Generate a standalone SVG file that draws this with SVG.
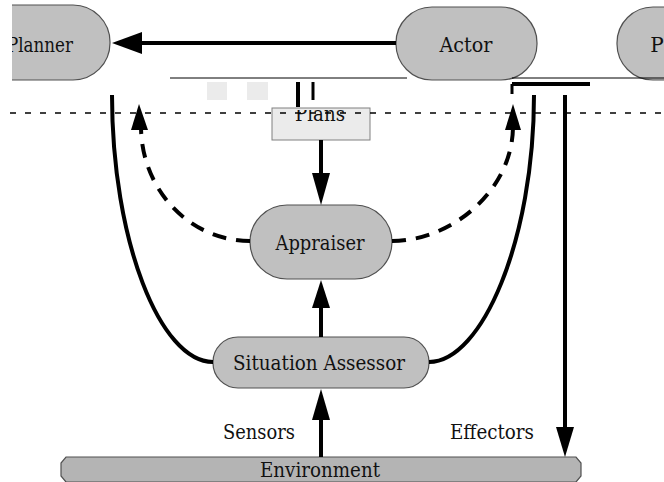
<svg xmlns="http://www.w3.org/2000/svg" width="664" height="482" viewBox="0 0 664 482">
<style>
.node{fill:#c0c0c0;stroke:#505050;stroke-width:1.2}
.lbl{font-family:"DejaVu Serif",serif;font-size:20px;fill:#111;text-anchor:middle}
.edge{fill:none;stroke:#000;stroke-width:4}
.dash{fill:none;stroke:#000;stroke-width:4;stroke-dasharray:14 10}
.head{fill:#000}
.junk{stroke:#000;fill:none}
</style>
<defs>
<clipPath id="clipL"><rect x="12" y="0" width="200" height="90"/></clipPath>
<clipPath id="clipPlans"><rect x="260" y="110" width="120" height="40"/></clipPath>
</defs>

<g id="planner" clip-path="url(#clipL)">
<rect class="node" x="-31" y="5" width="141" height="75" rx="37" ry="37"/>
<text class="lbl" x="40" y="52" textLength="66" lengthAdjust="spacingAndGlyphs">Planner</text>
</g>

<g id="actor">
<rect class="node" x="396" y="7" width="141" height="73" rx="36" ry="36"/>
<text class="lbl" x="466" y="52" textLength="53" lengthAdjust="spacingAndGlyphs">Actor</text>
</g>

<g id="p-node">
<rect class="node" x="617" y="7" width="141" height="73" rx="36" ry="36"/>
<text class="lbl" x="657" y="52">P</text>
</g>

<g id="plans">
<rect x="272" y="108" width="98" height="32" fill="#ebebeb" stroke="#808080" stroke-width="1"/>
<text class="lbl" x="320" y="121" clip-path="url(#clipPlans)" textLength="50" lengthAdjust="spacingAndGlyphs">Plans</text>
</g>

<g id="appraiser">
<rect class="node" x="250" y="205" width="142" height="74" rx="37" ry="37"/>
<text class="lbl" x="320" y="250" textLength="89" lengthAdjust="spacingAndGlyphs">Appraiser</text>
</g>

<g id="situation-assessor">
<rect class="node" x="213" y="337" width="216" height="51" rx="25" ry="25"/>
<text class="lbl" x="319" y="370" textLength="172" lengthAdjust="spacingAndGlyphs">Situation Assessor</text>
</g>

<g id="environment">
<path class="node" d="M66,457 H576 L581,463 V476 L576,482 H66 L61,476 V463 Z" style="fill:#b4b4b4"/>
<text class="lbl" x="320" y="477" textLength="120" lengthAdjust="spacingAndGlyphs">Environment</text>
</g>

<g id="connectors">
<line class="edge" x1="396" y1="43" x2="138" y2="43"/>
<polygon class="head" points="112,43 142,32 142,54"/>
<line class="edge" x1="321" y1="140" x2="321" y2="178"/>
<polygon class="head" points="321,205 312,173 330,173"/>
<line class="edge" x1="321" y1="337" x2="321" y2="302"/>
<polygon class="head" points="321,280 312,308 330,308"/>
<line class="edge" x1="321" y1="457" x2="321" y2="414"/>
<polygon class="head" points="321,389 312,420 330,420"/>
<line class="edge" x1="565" y1="95" x2="565" y2="432"/>
<polygon class="head" points="565,457 556,427 574,427"/>
<path class="edge" d="M213,362 C160,362 112,240 112,95"/>
<path class="edge" d="M429,362 C482,362 534,240 534,95"/>
<path class="dash" d="M250,241 C190,241 141,190 141,126"/>
<polygon class="head" points="139,104 131,130 148,130"/>
<path class="dash" d="M392,241 C452,241 513,190 513,126"/>
<polygon class="head" points="513,104 505,130 521,130"/>
<line class="junk" stroke-width="1" x1="170" y1="78" x2="407" y2="78"/>
<line class="junk" stroke-width="1" x1="512" y1="78" x2="664" y2="78"/>
<line class="junk" stroke-width="4" x1="512" y1="84" x2="590" y2="84"/>
<line class="junk" stroke-width="3" x1="512" y1="84" x2="512" y2="94"/>
<line class="junk" stroke-width="4" x1="298" y1="82" x2="298" y2="107"/>
<line class="junk" stroke-width="3" x1="313" y1="82" x2="313" y2="100"/>
<rect x="207" y="82" width="20" height="18" fill="#ebebeb"/>
<rect x="247" y="82" width="21" height="18" fill="#ebebeb"/>
<line class="junk" stroke-width="1.5" x1="10" y1="113" x2="664" y2="113" stroke-dasharray="6 9"/>
</g>
<text class="lbl" x="259" y="439" textLength="72" lengthAdjust="spacingAndGlyphs">Sensors</text>
<text class="lbl" x="492" y="439" textLength="84" lengthAdjust="spacingAndGlyphs">Effectors</text>
</svg>
